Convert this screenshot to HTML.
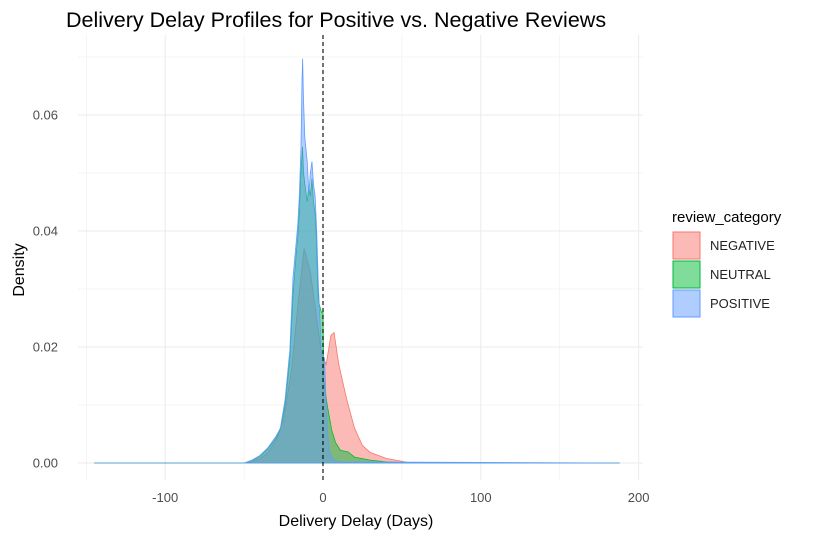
<!DOCTYPE html>
<html><head><meta charset="utf-8"><style>
body{margin:0;background:#fff;font-family:"Liberation Sans",sans-serif;}
svg text{font-family:"Liberation Sans",sans-serif;}
</style></head><body>
<svg id="chart" width="822" height="538">
<text x="66" y="27" font-size="21.5" fill="#000">Delivery Delay Profiles for Positive vs. Negative Reviews</text>
<g id="grid"></g><g id="marks"></g><g id="axes"></g>
<text x="356" y="526" font-size="16" text-anchor="middle" fill="#000">Delivery Delay (Days)</text>
<text transform="translate(24,270) rotate(-90)" font-size="16" text-anchor="middle" fill="#000">Density</text>
<g>
<text x="672" y="222" font-size="15" fill="#000">review_category</text>
<rect x="673" y="232" width="27" height="27" fill="rgba(248,118,109,0.5)" stroke="#F8766D"/>
<text x="710" y="250" font-size="13" fill="#222">NEGATIVE</text>
<rect x="673" y="261" width="27" height="27" fill="rgba(0,186,56,0.5)" stroke="#00BA38"/>
<text x="710" y="279" font-size="13" fill="#222">NEUTRAL</text>
<rect x="673" y="290" width="27" height="27" fill="rgba(97,156,255,0.5)" stroke="#619CFF"/>
<text x="710" y="308" font-size="13" fill="#222">POSITIVE</text>
</g>
</svg>
<script>
const xTicks=[-100,0,100,200];
const yTicks=[0,0.02,0.04,0.06];
const yTickLabels=["0.00","0.02","0.04","0.06"];
const negX=[-145,-50,-45,-40,-35,-30,-25,-20,-16,-12,-8,-4,-1,2,5,7,10,15,20,25,30,40,50,55,188];
const negY=[0,0,0.0002,0.0007,0.0018,0.0038,0.0075,0.016,0.027,0.037,0.033,0.025,0.019,0.017,0.022,0.0225,0.017,0.011,0.006,0.003,0.0018,0.0008,0.0003,0,0];
const neuX=[-145,-50,-45,-40,-35,-30,-27,-24,-21,-19,-17,-16,-15,-14,-13,-12.3,-11,-10,-9,-8,-7,-6,-5,-4.4,-3,-1,0,0.5,2.5,5.5,8,11,16,20,30,40,55,188];
const neuY=[0,0,0.0004,0.0011,0.0024,0.0042,0.0058,0.010,0.018,0.029,0.036,0.039,0.043,0.05,0.0545,0.05,0.047,0.045,0.0476,0.046,0.049,0.045,0.043,0.040,0.028,0.026,0.026,0.0143,0.0103,0.0057,0.0035,0.0022,0.0019,0.001,0.0005,0.0002,0,0];
const posX=[-145,-50,-45,-40,-35,-30,-27,-24,-21,-19,-17,-16,-15,-14,-13.3,-12.9,-12.4,-11.5,-10,-9,-8,-7,-6,-5,-4,-3,-1,1,2,3,4,6,10,188];
const posY=[0,0,0.0005,0.0013,0.0026,0.0045,0.006,0.011,0.0195,0.032,0.038,0.041,0.046,0.054,0.066,0.0697,0.063,0.056,0.052,0.0465,0.05,0.052,0.048,0.046,0.040,0.031,0.019,0.018,0.010,0.005,0.002,0.0007,0.0002,0];
const NS="http://www.w3.org/2000/svg";
const L=78,R=643,T=35,B=480;
const sx=v=>323+v*1.578;
const sy=v=>463-v*5800;
const grid=document.getElementById('grid'),marks=document.getElementById('marks'),axes=document.getElementById('axes');
function mk(tag,at,p){const e=document.createElementNS(NS,tag);for(const k in at)e.setAttribute(k,at[k]);p.appendChild(e);return e;}
for(let v=-150;v<=200;v+=50){const x=sx(v);if(x<L||x>R)continue;const major=v%100===0;
const g=mk('line',{x1:x,x2:x,y1:T,y2:B,stroke:'#ebebeb','stroke-width':major?1:0.5},grid);

}
for(let i=0;i<=7;i++){const v=i*0.01;const y=sy(v);
const g=mk('line',{x1:L,x2:R,y1:y,y2:y,stroke:'#ebebeb','stroke-width':i%2===0?1:0.5},grid);

}
xTicks.forEach(v=>{const t=mk('text',{x:sx(v),y:502,'font-size':13,'text-anchor':'middle',fill:'#4d4d4d'},axes);t.textContent=String(v);

});
yTicks.forEach((v,i)=>{const t=mk('text',{x:58,y:sy(v)+4.5,'font-size':13,'text-anchor':'end',fill:'#4d4d4d'},axes);t.textContent=yTickLabels[i];

});
function area(xs,ys,fill,stroke,name){let d='M'+sx(xs[0])+','+sy(0);
xs.forEach((x,i)=>{d+=' L'+sx(x).toFixed(2)+','+sy(ys[i]).toFixed(2);});
d+=' L'+sx(xs[xs.length-1])+','+sy(0)+' Z';
const p=mk('path',{d:d,fill:fill,stroke:stroke,'stroke-width':0.8},marks);

}
area(negX,negY,'rgba(248,118,109,0.5)','#F8766D','density-negative');
area(neuX,neuY,'rgba(0,186,56,0.5)','#00BA38','density-neutral');
area(posX,posY,'rgba(97,156,255,0.5)','#619CFF','density-positive');
const vl=mk('line',{x1:sx(0),x2:sx(0),y1:T,y2:B,stroke:'#000','stroke-width':1.1,'stroke-dasharray':'4,3'},marks);


</script>
</body></html>
